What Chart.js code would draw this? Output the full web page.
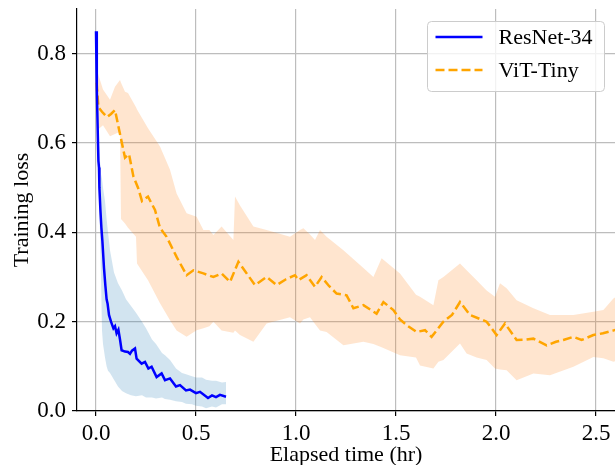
<!DOCTYPE html>
<html><head><meta charset="utf-8">
<script src="https://cdn.jsdelivr.net/npm/chart.js@4.4.0/dist/chart.umd.min.js"></script>
<style>html,body{margin:0;padding:0;background:#fff;overflow:hidden}canvas{display:block}</style>
</head><body>
<canvas id="c" width="615" height="465"></canvas>
<script>
const seriesNames = ['ResNet-34', 'ViT-Tiny'];
const xTickValues = [0, 0.5, 1.0, 1.5, 2.0, 2.5];
const yTickValues = [0, 0.2, 0.4, 0.6, 0.8];
const xAxisTitle = 'Elapsed time (hr)';
const yAxisTitle = 'Training loss';

const resnetTime = [0, 0.004, 0.008, 0.012, 0.015, 0.017, 0.022, 0.027, 0.032, 0.04, 0.047, 0.053, 0.058, 0.065, 0.075, 0.087, 0.095, 0.103, 0.112, 0.12, 0.128, 0.145, 0.16, 0.17, 0.18, 0.195, 0.203, 0.228, 0.245, 0.262, 0.278, 0.303, 0.328, 0.345, 0.37, 0.40, 0.42, 0.45, 0.47, 0.5, 0.52, 0.56, 0.58, 0.6, 0.62, 0.65];
const resnetLoss = [0.85, 0.72, 0.64, 0.56, 0.545, 0.50, 0.45, 0.41, 0.38, 0.32, 0.28, 0.25, 0.24, 0.215, 0.20, 0.185, 0.19, 0.174, 0.182, 0.16, 0.136, 0.133, 0.132, 0.128, 0.135, 0.14, 0.117, 0.106, 0.11, 0.095, 0.099, 0.076, 0.084, 0.069, 0.073, 0.055, 0.058, 0.046, 0.048, 0.04, 0.043, 0.029, 0.035, 0.031, 0.036, 0.032];

const resnetBandTime = [0, 0.005, 0.012, 0.02, 0.025, 0.03, 0.035, 0.045, 0.053, 0.06, 0.07, 0.09, 0.11, 0.13, 0.15, 0.175, 0.2, 0.23, 0.25, 0.28, 0.3, 0.33, 0.345, 0.37, 0.4, 0.43, 0.45, 0.48, 0.5, 0.53, 0.55, 0.58, 0.6, 0.63, 0.65];
const resnetBandUpper = [0.87, 0.75, 0.63, 0.56, 0.53, 0.52, 0.50, 0.47, 0.43, 0.40, 0.36, 0.31, 0.286, 0.27, 0.25, 0.235, 0.22, 0.20, 0.185, 0.16, 0.15, 0.13, 0.125, 0.114, 0.095, 0.085, 0.082, 0.078, 0.075, 0.075, 0.07, 0.068, 0.068, 0.064, 0.065];
const resnetBandLower = [0.83, 0.69, 0.52, 0.40, 0.30, 0.18, 0.15, 0.12, 0.10, 0.09, 0.085, 0.07, 0.055, 0.045, 0.04, 0.035, 0.033, 0.035, 0.03, 0.03, 0.028, 0.03, 0.027, 0.025, 0.022, 0.02, 0.016, 0.015, 0.012, 0.01, 0.006, 0.01, 0.008, 0.015, 0.015];

const vitTime = [0.003, 0.012, 0.03, 0.055, 0.075, 0.095, 0.12, 0.145, 0.165, 0.187, 0.21, 0.23, 0.26, 0.295, 0.32, 0.353, 0.403, 0.453, 0.487, 0.537, 0.587, 0.628, 0.67, 0.712, 0.75, 0.795, 0.853, 0.903, 0.95, 0.995, 1.012, 1.053, 1.095, 1.128, 1.165, 1.203, 1.253, 1.287, 1.337, 1.403, 1.437, 1.487, 1.52, 1.56, 1.603, 1.645, 1.678, 1.737, 1.78, 1.82, 1.87, 1.953, 2.003, 2.045, 2.103, 2.15, 2.187, 2.253, 2.3, 2.337, 2.387, 2.428, 2.487, 2.535, 2.585, 2.62];
const vitLoss = [0.735, 0.68, 0.67, 0.658, 0.665, 0.674, 0.62, 0.567, 0.575, 0.525, 0.50, 0.47, 0.48, 0.45, 0.41, 0.39, 0.345, 0.304, 0.315, 0.308, 0.30, 0.308, 0.289, 0.334, 0.31, 0.282, 0.30, 0.282, 0.295, 0.304, 0.293, 0.304, 0.278, 0.30, 0.28, 0.263, 0.259, 0.23, 0.237, 0.218, 0.244, 0.226, 0.205, 0.19, 0.177, 0.181, 0.166, 0.20, 0.215, 0.244, 0.215, 0.20, 0.17, 0.196, 0.159, 0.16, 0.162, 0.147, 0.155, 0.159, 0.166, 0.159, 0.17, 0.174, 0.18, 0.185];

const vitBandTime = [0.0, 0.01, 0.035, 0.07, 0.095, 0.12, 0.125, 0.145, 0.16, 0.2, 0.205, 0.26, 0.32, 0.37, 0.403, 0.453, 0.503, 0.537, 0.567, 0.587, 0.628, 0.687, 0.695, 0.72, 0.787, 0.853, 0.97, 1.02, 1.037, 1.07, 1.095, 1.12, 1.153, 1.237, 1.337, 1.387, 1.428, 1.52, 1.6, 1.62, 1.687, 1.712, 1.737, 1.82, 1.853, 1.903, 1.953, 1.995, 2.02, 2.053, 2.103, 2.187, 2.27, 2.387, 2.487, 2.537, 2.587, 2.62];
const vitBandUpper = [0.75, 0.755, 0.72, 0.697, 0.726, 0.741, 0.735, 0.715, 0.712, 0.68, 0.675, 0.633, 0.592, 0.54, 0.487, 0.443, 0.435, 0.405, 0.405, 0.394, 0.413, 0.383, 0.48, 0.46, 0.413, 0.405, 0.39, 0.405, 0.409, 0.395, 0.383, 0.405, 0.39, 0.36, 0.32, 0.30, 0.342, 0.308, 0.26, 0.256, 0.237, 0.293, 0.30, 0.33, 0.315, 0.293, 0.27, 0.256, 0.286, 0.275, 0.248, 0.23, 0.215, 0.215, 0.222, 0.226, 0.252, 0.26];
const vitBandLower = [0.70, 0.63, 0.64, 0.615, 0.62, 0.625, 0.43, 0.42, 0.41, 0.39, 0.33, 0.293, 0.241, 0.203, 0.18, 0.166, 0.181, 0.185, 0.19, 0.20, 0.18, 0.175, 0.18, 0.17, 0.155, 0.196, 0.21, 0.196, 0.205, 0.21, 0.195, 0.18, 0.177, 0.147, 0.155, 0.15, 0.143, 0.125, 0.12, 0.102, 0.095, 0.11, 0.114, 0.151, 0.129, 0.12, 0.114, 0.095, 0.093, 0.091, 0.069, 0.084, 0.08, 0.099, 0.121, 0.118, 0.11, 0.115];

const zip = (xs, ys) => xs.map((x, i) => ({x: x, y: ys[i]}));

const FONT = "'Liberation Serif', 'Times New Roman', serif";
const BLUE = '#0000ff';
const ORANGE = '#ffa500';
const BLUE_BAND = 'rgba(31,119,180,0.2)';
const ORANGE_BAND = 'rgba(255,127,14,0.2)';
const DASH = [9, 4];

const bandStyle = {borderWidth: 0, pointRadius: 0, pointHoverRadius: 0, showLine: true};

const boxLegend = {
  id: 'boxLegend',
  afterDraw(chart) {
    const ctx = chart.ctx;
    const ca = chart.chartArea;
    const w = 177, h = 70, r = 4;
    const x0 = Math.round(ca.right - 11 - w) + 0.5;
    const y0 = Math.round(ca.top + 12) + 0.5;
    ctx.save();
    ctx.beginPath();
    ctx.moveTo(x0 + r, y0);
    ctx.arcTo(x0 + w, y0, x0 + w, y0 + h, r);
    ctx.arcTo(x0 + w, y0 + h, x0, y0 + h, r);
    ctx.arcTo(x0, y0 + h, x0, y0, r);
    ctx.arcTo(x0, y0, x0 + w, y0, r);
    ctx.closePath();
    ctx.fillStyle = 'rgba(255,255,255,0.8)';
    ctx.fill();
    ctx.strokeStyle = '#cccccc';
    ctx.lineWidth = 1;
    ctx.stroke();
    const items = chart.data.datasets.filter(d => d.inLegend);
    items.forEach((d, i) => {
      const ly = y0 + 15.5 + i * 33;
      ctx.beginPath();
      ctx.setLineDash(d.borderDash || []);
      ctx.strokeStyle = d.borderColor;
      ctx.lineWidth = d.borderWidth;
      ctx.moveTo(x0 + 8, ly);
      ctx.lineTo(x0 + 55, ly);
      ctx.stroke();
      ctx.setLineDash([]);
      ctx.fillStyle = '#000';
      ctx.font = '22px ' + FONT;
      ctx.textBaseline = 'middle';
      ctx.textAlign = 'left';
      ctx.fillText(d.label, x0 + 71, ly + 1.5);
    });
    ctx.restore();
  }
};

new Chart(document.getElementById('c'), {
  type: 'line',
  data: {
    datasets: [
      Object.assign({label: 'resnet-upper', data: zip(resnetBandTime, resnetBandUpper), fill: '+1', backgroundColor: BLUE_BAND}, bandStyle),
      Object.assign({label: 'resnet-lower', data: zip(resnetBandTime, resnetBandLower), fill: false}, bandStyle),
      Object.assign({label: 'vit-upper', data: zip(vitBandTime, vitBandUpper), fill: '+1', backgroundColor: ORANGE_BAND}, bandStyle),
      Object.assign({label: 'vit-lower', data: zip(vitBandTime, vitBandLower), fill: false}, bandStyle),
      {label: seriesNames[0], inLegend: true, data: zip(resnetTime, resnetLoss), borderColor: BLUE, borderWidth: 2.5, pointRadius: 0, fill: false},
      {label: seriesNames[1], inLegend: true, data: zip(vitTime, vitLoss), borderColor: ORANGE, borderWidth: 2.5, borderDash: DASH, pointRadius: 0, fill: false}
    ]
  },
  options: {
    responsive: false,
    animation: false,
    events: [],
    layout: {padding: {top: 9, left: 0, right: 0, bottom: 0}},
    plugins: {
      legend: {display: false},
      tooltip: {enabled: false},
      filler: {drawTime: 'beforeDatasetsDraw'}
    },
    scales: {
      x: {
        type: 'linear',
        min: -0.095,
        max: 2.595,
        afterBuildTicks: s => { s.ticks = xTickValues.map(v => ({value: v})); },
        afterFit: s => { s.height = 54; s.paddingLeft = 0; s.paddingRight = 0; },
        ticks: {color: '#000', font: {family: FONT, size: 23}, padding: 4, callback: v => Number(v).toFixed(1), maxRotation: 0, autoSkip: false},
        grid: {color: '#bdbdbd', lineWidth: 1.2, tickLength: 5, tickColor: '#000', tickWidth: 1.2},
        border: {color: '#000', width: 1.2},
        title: {display: true, text: xAxisTitle, color: '#000', font: {family: FONT, size: 22, lineHeight: 1.2}, padding: {top: 0, bottom: -3}}
      },
      y: {
        type: 'linear',
        min: 0,
        max: 0.9,
        afterBuildTicks: s => { s.ticks = yTickValues.map(v => ({value: v})); },
        afterFit: s => { s.width = 77; s.paddingTop = 0; s.paddingBottom = 0; },
        ticks: {color: '#000', font: {family: FONT, size: 23}, padding: 6, callback: v => Number(v).toFixed(1), autoSkip: false},
        grid: {color: '#bdbdbd', lineWidth: 1.2, tickLength: 5, tickColor: '#000', tickWidth: 1.2},
        border: {color: '#000', width: 1.2},
        title: {display: true, text: yAxisTitle, color: '#000', font: {family: FONT, size: 22, lineHeight: 1.2}, padding: {top: 9, bottom: 0}}
      }
    }
  },
  plugins: [boxLegend]
});
</script>
</body></html>
